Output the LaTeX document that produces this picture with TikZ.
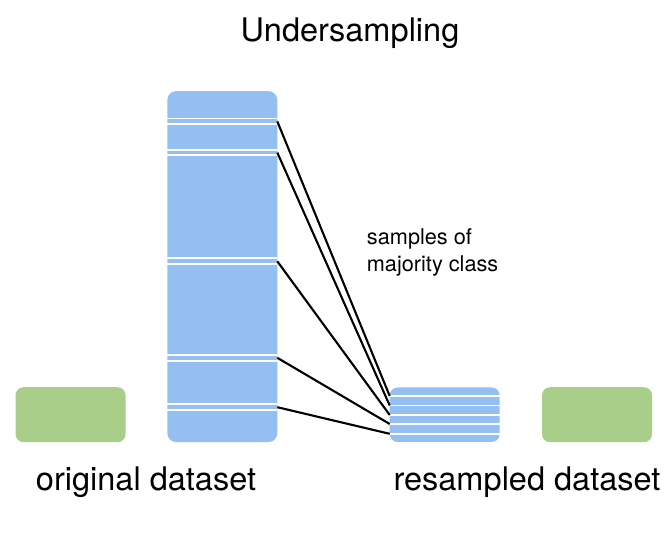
\documentclass[tikz,border=0pt]{standalone}
\usepackage{fontspec}
\setmainfont{TeX Gyre Heros}
\definecolor{barblue}{RGB}{149,191,243}
\definecolor{boxgreen}{RGB}{169,206,138}
\begin{document}
\begin{tikzpicture}[x=1pt,y=-1pt,
  bar/.style={fill=barblue, rounded corners=9pt, inner sep=0pt, minimum width=110pt},
  gbox/.style={fill=boxgreen, rounded corners=8pt, inner sep=0pt, minimum width=110pt, minimum height=55pt},
  sep/.style={white, line width=1.8pt},
  link/.style={black, line width=2.1pt},
  big/.style={font=\fontsize{32.5}{39}\selectfont, inner sep=0pt, anchor=base},
  small/.style={font=\fontsize{21.7}{26}\selectfont, inner sep=0pt, anchor=base west}]
\useasboundingbox (0,0) rectangle (668,556);
\node[gbox] (g1) at (70.5,414.7) {};
\node[bar, minimum height=351pt] (orig) at (222.3,266.6) {};
\node[bar, minimum height=54.5pt, rounded corners=8pt] (res) at (444.7,414.7) {};
\node[gbox] (g2) at (597,414.7) {};
% separators in the original dataset
\foreach \y in {118.5,124.3,150,155.3,258.3,264.3,355,360.7,404.3,410}
  \draw[sep] (167.3,\y) -- (277.3,\y);
% separators in the resampled dataset
\foreach \y in {396,405.5,415,424,433.8}
  \draw[sep] (389.7,\y) -- (499.7,\y);
% connector end points
\coordinate (a1) at (277.3,121.4);
\coordinate (a2) at (277.3,152.6);
\coordinate (a3) at (277.3,261.3);
\coordinate (a4) at (277.3,357.8);
\coordinate (a5) at (277.3,407.2);
\coordinate (b1) at (389.7,396);
\coordinate (b2) at (389.7,405.5);
\coordinate (b3) at (389.7,415);
\coordinate (b4) at (389.7,424);
\coordinate (b5) at (389.7,433.8);
\draw[link] (a1) -- (b1);
\draw[link] (a2) -- (b2);
\draw[link] (a3) -- (b3);
\draw[link] (a4) -- (b4);
\draw[link] (a5) -- (b5);
% texts
\node[big] (title) at (350,41.7) {Undersampling};
\node[big] (lorig) at (146,490) {original dataset};
\node[big] (lres) at (527,490) {resampled dataset};
\node[small] (m1) at (366.7,244.3) {samples of};
\node[small] (m2) at (366.7,271.5) {majority class};
\end{tikzpicture}
\end{document}
